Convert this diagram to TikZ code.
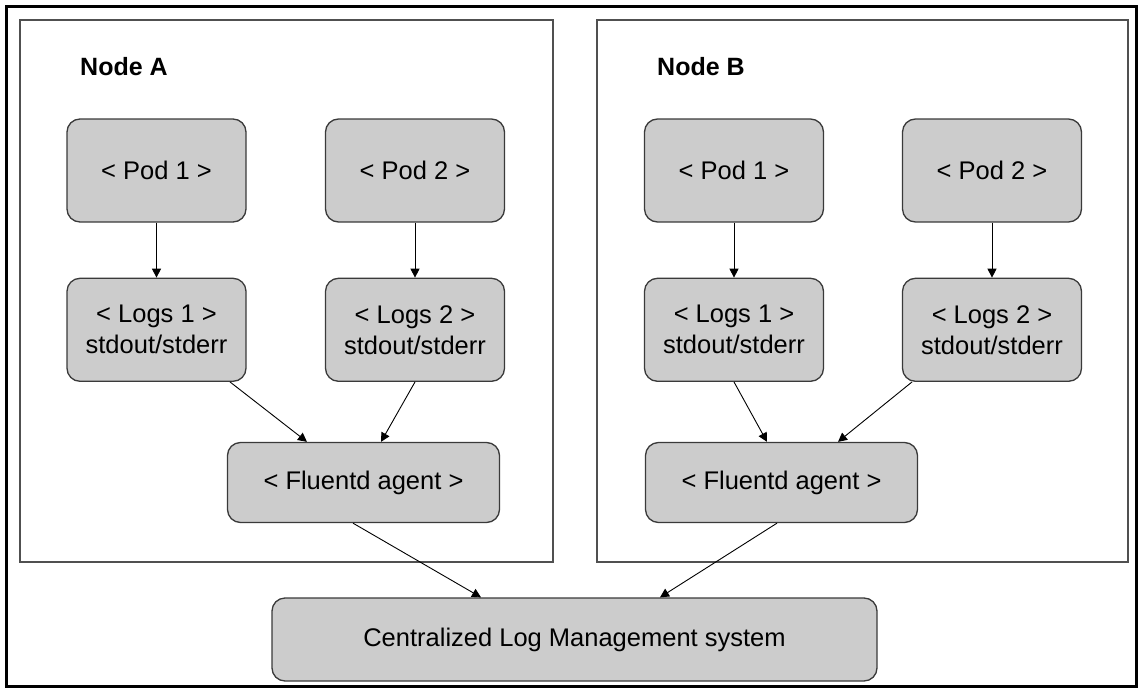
\documentclass[tikz,border=0pt]{standalone}
\usepackage{fontspec}
\setmainfont{Liberation Sans}
\usepackage{tikz}
\usetikzlibrary{arrows.meta,positioning}
\definecolor{PodGray}{HTML}{CCCCCC}
\definecolor{PodLine}{HTML}{3A3A3A}
\definecolor{PanelLine}{HTML}{505050}

\begin{document}
\begin{tikzpicture}[x=1pt,y=-1pt,
  box/.style={rounded corners=13pt,draw=PodLine,line width=1.3pt,fill=PodGray,minimum width=179pt,minimum height=103pt,align=center,font=\fontsize{25.5}{31}\selectfont,inner sep=0pt},
  agent/.style={box,minimum width=272pt,minimum height=80pt},
  central/.style={box,minimum width=605pt,minimum height=83pt},
  panel/.style={draw=PanelLine,line width=1.3pt},
  title/.style={font=\fontsize{25}{30}\selectfont\bfseries,anchor=base west,inner sep=0pt},
  flow/.style={-{Triangle[length=9pt,width=9pt]},line width=0.9pt},
  node distance=55pt
]
\useasboundingbox (0,0) rectangle (1143,693);
\draw[line width=3pt] (6.5,6.5) rectangle (1136.5,686.5);
\draw[panel] (20,20) rectangle (553,562);
\draw[panel] (597,20) rectangle (1128,562);
\node[title] (ta) at (80,76) {Node A};
\node[title] (tb) at (657,76) {Node B};
\node[box] (pa1) at (156.5,170.5) {< Pod 1 >};
\node[box] (pa2) at (415,170.5) {< Pod 2 >};
\node[box,below=of pa1] (la1) {< Logs 1 >\\stdout/stderr};
\node[box,below=of pa2] (la2) {< Logs 2 >\\stdout/stderr};
\node[agent] (fa) at (363.5,482.5) {< Fluentd agent >};
\node[box] (pb1) at (734,170.5) {< Pod 1 >};
\node[box] (pb2) at (992,170.5) {< Pod 2 >};
\node[box,below=of pb1] (lb1) {< Logs 1 >\\stdout/stderr};
\node[box,below=of pb2] (lb2) {< Logs 2 >\\stdout/stderr};
\node[agent] (fb) at (781.5,482.5) {< Fluentd agent >};
\node[central] (clm) at (574.5,639.5) {Centralized Log Management system};
\draw[flow] (pa1) -- (la1);
\draw[flow] (pa2) -- (la2);
\draw[flow] (pb1) -- (lb1);
\draw[flow] (pb2) -- (lb2);
\draw[flow] ([xshift=73.5pt]la1.south) -- ([xshift=-56.5pt]fa.north);
\draw[flow] (la2.south) -- ([xshift=17.5pt]fa.north);
\draw[flow] (lb1.south) -- ([xshift=-14.5pt]fb.north);
\draw[flow] ([xshift=-80pt]lb2.south) -- ([xshift=56.5pt]fb.north);
\draw[flow] ([xshift=-10.5pt]fa.south) -- ([xshift=-93.5pt]clm.north);
\draw[flow] ([xshift=-4.5pt]fb.south) -- ([xshift=85.5pt]clm.north);
\end{tikzpicture}
\end{document}
